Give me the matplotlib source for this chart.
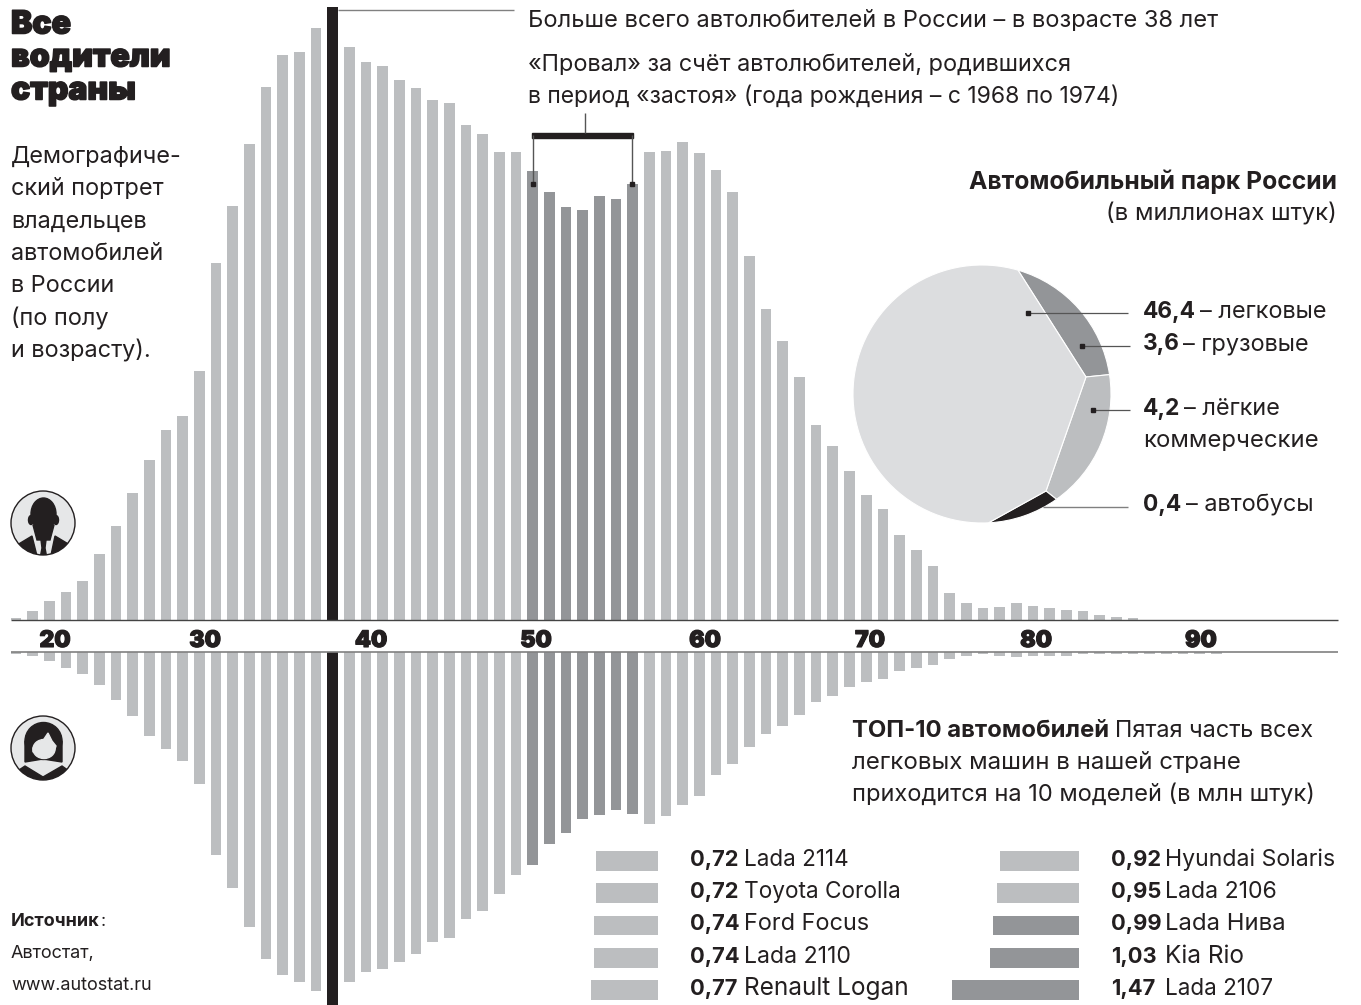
import numpy as np
import matplotlib
matplotlib.use('Agg')
import matplotlib.pyplot as plt
from matplotlib.patches import Circle, Ellipse, Polygon, PathPatch, Rectangle
from matplotlib.path import Path
import matplotlib.patheffects as pe

plt.rcParams['font.family'] = ['Inter', 'DejaVu Sans']

# data
ages = np.arange(19, 92)
men = [2, 9, 19, 28, 39, 66, 94, 127, 160, 190,
       204, 249, 357, 414, 476, 533, 565, 568, 592, 613,
       573, 558, 554, 540, 532, 520, 517, 495, 486, 468,
       468, 449, 428, 413, 410, 424, 421, 436, 468, 469,
       478, 467, 450, 428, 364, 311, 279, 243, 195, 174,
       149, 125, 111, 85, 70, 54, 27, 17, 12, 13,
       17, 14, 12, 10, 9, 5, 3, 2, 0, 0, 0, 0, 0]
women = [2, 4, 9, 16, 22, 33, 48, 64, 84, 97,
         109, 132, 203, 236, 275, 307, 323, 330, 339, 353,
         330, 320, 317, 310, 302, 290, 286, 267, 259, 242,
         223, 213, 192, 181, 167, 163, 158, 162, 172, 164,
         153, 144, 123, 112, 95, 82, 74, 63, 50, 44,
         35, 30, 27, 19, 16, 13, 7, 4, 2, 4,
         5, 4, 4, 4, 2, 2, 2, 2, 2, 2, 2, 2, 2]
tick_labels = ['20', '30', '40', '50', '60', '70', '80', '90']
tick_pos = [21.34, 30.34, 40.3, 50.19, 60.33, 70.23, 80.19, 90.08]

# pie: real values for the labels, rim shares as drawn in the picture
park_values = ['46,4', '3,6', '4,2', '0,4']
park_names = ['– легковые', '– грузовые', '– лёгкие', '– автобусы']
rim_shares = [18.1, 17.6, 9.0, 55.3]

models_left = ['Lada 2114', 'Toyota Corolla', 'Ford Focus', 'Lada 2110', 'Renault Logan']
values_left = [0.72, 0.72, 0.74, 0.74, 0.77]
models_right = ['Hyundai Solaris', 'Lada 2106', 'Lada Нива', 'Kia Rio', 'Lada 2107']
values_right = [0.92, 0.95, 0.99, 1.03, 1.47]

BLACK = '#231f20'
MID = '#bcbec0'
DARK = '#939598'
LIGHT = '#dcdddf'
W, H = 1361, 1005

fig = plt.figure(figsize=(W / 100, H / 100), dpi=100)


def px_axes(x0, y0, x1, y1):
    # axes placed by pixel box, y from the top of the picture
    ax = fig.add_axes([x0 / W, 1 - y1 / H, (x1 - x0) / W, (y1 - y0) / H])
    ax.patch.set_alpha(0)
    ax.axis('off')
    return ax


colors = [BLACK if a == 38 else DARK if 50 <= a <= 56 else MID for a in ages]
xlim = (19 - 16 / 16.67, 19 + 1345 / 16.67)

# men, up from the top axis line
ax_up = px_axes(0, 0, W, 620)
ax_up.bar(ages, men, width=0.64, color=colors)
ax_up.set_xlim(xlim)
ax_up.set_ylim(0, 620)

# women, down from the bottom axis line
ax_down = px_axes(0, 652, W, H)
ax_down.bar(ages, women, width=0.64, color=colors)
ax_down.set_xlim(xlim)
ax_down.set_ylim(353, 0)

# overlay in picture pixels for the texts and thin lines, above everything
ov = px_axes(0, 0, W, H)
ov.set_xlim(0, W)
ov.set_ylim(H, 0)
ov.set_zorder(10)


def txt(x, y, s, size=16.9, weight='normal', ha='left', **kw):
    return ov.text(x, y + 2, s, fontsize=size, fontweight=weight, ha=ha, va='center',
                   color=BLACK, **kw)


def line(xs, ys, lw=0.9, color='#555555'):
    ov.plot(xs, ys, color=color, lw=lw, solid_capstyle='butt')


def dot(x, y):
    ov.add_patch(Rectangle((x - 2, y - 2), 4, 4, color=BLACK, zorder=5))


line([11, 1338], [619.7, 619.7], 1.0, '#444444')
line([11, 1338], [652, 652], 1.2, '#808080')

age_trans = ax_up.get_xaxis_transform()
for p, lab in zip(tick_pos, tick_labels):
    ax_up.text(p, -21 / 620, lab, transform=age_trans, ha='center', va='center', fontsize=16.5,
               fontweight='black', color=BLACK,
               path_effects=[pe.withStroke(linewidth=0.8, foreground=BLACK)])

# title block
heavy = [pe.withStroke(linewidth=1.1, foreground=BLACK)]
for y, s in zip([23, 56, 89], ['Все', 'водители', 'страны']):
    txt(11, y, s, 23, 'black', path_effects=heavy)
body = ['Демографиче-', 'ский портрет', 'владельцев', 'автомобилей', 'в России', '(по полу', 'и возрасту).']
for i, s in enumerate(body):
    txt(11, 155 + i * 32.3, s, 16.9)

# notes on top
line([338, 514], [10, 10], 1.0, '#808080')
txt(528, 19, 'Больше всего автолюбителей в России – в возрасте 38 лет', 17.0)
txt(528, 63, '«Провал» за счёт автолюбителей, родившихся', 16.9)
txt(528, 95, 'в период «застоя» (года рождения – с 1968 по 1974)', 16.5)

# bracket over the dip
ov.add_patch(Rectangle((532, 132.5), 101, 5.5, color=BLACK))
line([585, 585], [113, 133], 1.0)
line([533, 533], [135, 184], 1.0)
line([632, 632], [135, 184], 1.0)
dot(533, 184)
dot(632, 184)

# pie
txt(1337, 180, 'Автомобильный парк России', 17.8, 'bold', ha='right')
txt(1337, 212, '(в миллионах штук)', 17.2, ha='right')

ax_pie = px_axes(982 - 161.25, 394 - 161.25, 982 + 161.25, 394 + 161.25)
wedges, _ = ax_pie.pie(rim_shares, startangle=73.8, counterclock=False,
                       colors=[DARK, MID, BLACK, LIGHT])
ax_pie.set_xlim(-1.25, 1.25)
ax_pie.set_ylim(-1.25, 1.25)
# the slices in the picture do not meet in the centre but in these two points
apex = (0.806, 0.132)
joint = (0.496, -0.752)
inner = [[apex], [apex, joint], [joint], [joint, apex]]
for w, pts in zip(wedges, inner):
    w.set_visible(False)
    arc = Path.arc(w.theta1, w.theta2)
    verts = np.vstack([arc.vertices, pts, [arc.vertices[0]]])
    codes = list(arc.codes) + [Path.LINETO] * len(pts) + [Path.CLOSEPOLY]
    ax_pie.add_patch(PathPatch(Path(verts, codes), facecolor=w.get_facecolor(),
                               edgecolor='white', lw=0.8))

line([1028, 1128], [313, 313])
dot(1028, 313)
line([1082, 1130], [346, 346])
dot(1082, 346)
line([1093, 1130], [410, 410])
dot(1093, 410)
line([1043, 1128], [507, 507], 1.0, '#808080')

name_x = [1200.5, 1183, 1184, 1186]
for y, v, n, x in zip([310, 342, 407, 503], park_values, park_names, name_x):
    txt(1143, y, v, 16.4, weight='bold')
    txt(x, y, n, 16.9)
txt(1143, 439, 'коммерческие', 17.2)

# top 10
txt(852, 729, 'ТОП-10 автомобилей', 17.2, 'bold')
txt(1115, 729, 'Пятая часть всех', 16.9)
txt(852, 761, 'легковых машин в нашей стране', 17.3)
txt(852, 793, 'приходится на 10 моделей (в млн штук)', 17.0)

PX_PER_UNIT = 86.4


def model_bars(right, vals, cols):
    ax = px_axes(right - 200, 845, right, H)
    ax.barh(range(len(vals)), vals, height=0.62, color=cols)
    ax.set_xlim(200 / PX_PER_UNIT, 0)
    ax.set_ylim((H - 861) / 32.25, (845 - 861) / 32.25)


model_bars(658, values_left, [MID] * 5)
model_bars(1079, values_right, [MID, MID, DARK, DARK, DARK])

left_sizes = [16.2, 16.3, 16.9, 16.6, 17.6]
right_sizes = [16.6, 16.6, 17.2, 17.5, 16.2]
for i in range(5):
    y = 858 + i * 32.2
    txt(690, y, f'{values_left[i]:.2f}'.replace('.', ','), 15.8, weight='bold')
    txt(744, y, models_left[i], left_sizes[i])
    txt(1111, y, f'{values_right[i]:.2f}'.replace('.', ','), 15.8, weight='bold')
    txt(1165, y, models_right[i], right_sizes[i])

# source
txt(11, 919, 'Источник', 13, 'bold')
txt(101, 919, ':', 13)
txt(11, 951, 'Автостат,', 13)
txt(11, 983, 'www.autostat.ru', 13)

# man icon
clip = Circle((43, 523), 32, transform=ov.transData)
ov.add_patch(Circle((43, 523), 32, facecolor='#e6e7e8', edgecolor=BLACK, lw=1))
man = [Ellipse((43.5, 514), 25, 32, color=BLACK),
       Ellipse((31, 520), 5, 9, color=BLACK),
       Ellipse((56, 520), 5, 9, color=BLACK),
       Polygon([(33, 525), (54, 525), (50, 540), (37, 540)], color=BLACK),
       Polygon([(12, 548), (32, 536), (38, 560), (12, 560)], color=BLACK),
       Polygon([(75, 548), (55, 536), (50, 560), (75, 560)], color=BLACK),
       Polygon([(41, 540), (46, 540), (45, 548), (46.5, 556), (40.5, 556), (42, 548)], color=BLACK)]
for p in man:
    ov.add_patch(p)
    p.set_clip_path(clip)

# woman icon
clip2 = Circle((43, 748), 32, transform=ov.transData)
ov.add_patch(Circle((43, 748), 32, facecolor='#e6e7e8', edgecolor=BLACK, lw=1))
woman = [Ellipse((43.5, 741), 37, 37, color=BLACK),
         Polygon([(25, 741), (62, 741), (62, 762), (43, 759), (25, 762)], color=BLACK),
         Ellipse((44, 749), 22, 19, color='#e6e7e8'),
         Polygon([(33, 748), (42, 742), (48, 733), (52, 741), (56, 746), (54, 752), (33, 752)], color='#e6e7e8'),
         Polygon([(10, 776), (25, 766), (43, 777), (62, 766), (76, 776), (76, 790), (10, 790)], color=BLACK)]
for p in woman:
    ov.add_patch(p)
    p.set_clip_path(clip2)

fig.savefig('out.png', dpi=100)
